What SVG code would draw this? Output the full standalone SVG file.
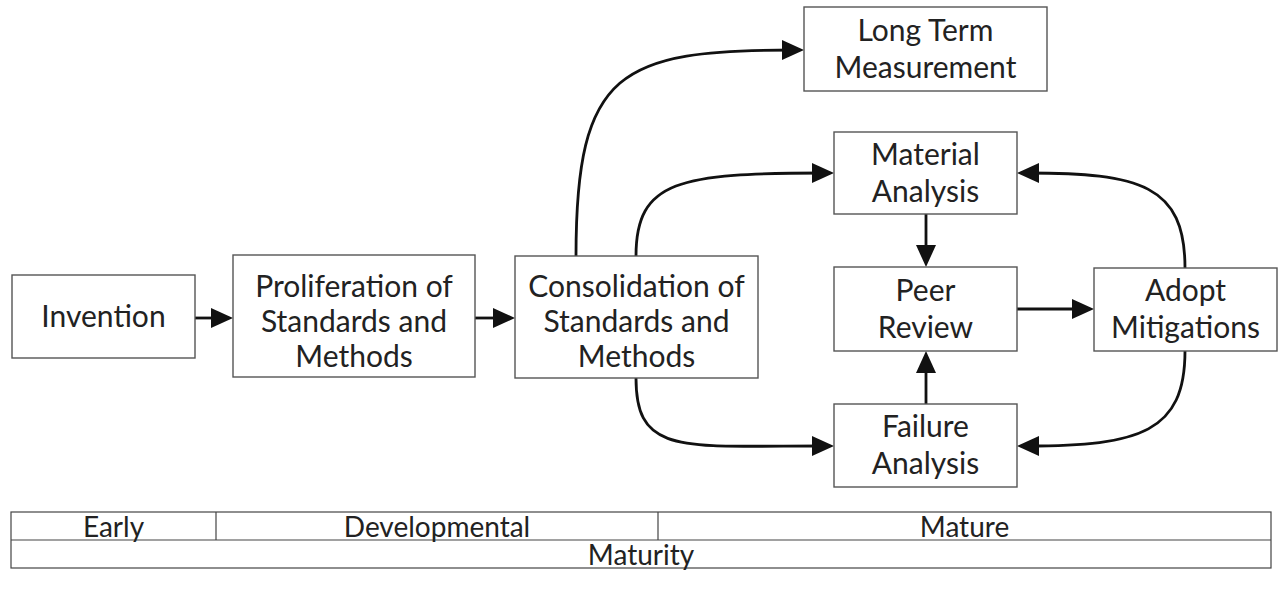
<svg xmlns="http://www.w3.org/2000/svg" width="1278" height="600" viewBox="0 0 1278 600">
<style>
.box{fill:#fff;stroke:#555;stroke-width:1.4}
.t{font-family:Lato,"Open Sans","Liberation Sans",sans-serif;font-size:30px;fill:#222;text-anchor:middle}
.tt{font-family:Lato,"Open Sans","Liberation Sans",sans-serif;font-size:28px;fill:#222;text-anchor:middle}
.c{fill:none;stroke:#111;stroke-width:2.8;marker-end:url(#ah)}
.tbl{fill:none;stroke:#444;stroke-width:1.2}
</style>
<defs>
<marker id="ah" markerUnits="userSpaceOnUse" markerWidth="22" markerHeight="20" refX="12" refY="10" orient="auto">
<path d="M0,0 L22,10 L0,20 z" fill="#111"/>
</marker>
</defs>
<rect width="1278" height="600" fill="#fff"/>
<g id="connectors">
<path class="c" d="M195,318 H223"/>
<path class="c" d="M475,318 H505"/>
<path class="c" d="M576,256 C576,70 620,50 794,50"/>
<path class="c" d="M636,256 C636,180 680,173 824,173"/>
<path class="c" d="M636,378 C636,455 680,446 824,446"/>
<path class="c" d="M926,214 V257"/>
<path class="c" d="M926,404 V361"/>
<path class="c" d="M1017,309 H1084"/>
<path class="c" d="M1185,268 C1185,185 1140,173 1027,173"/>
<path class="c" d="M1185,351 C1185,432 1140,446 1027,446"/>
</g>
<g id="invention">
<rect class="box" x="12" y="275" width="183" height="83"/>
<text class="t" x="103.5" y="327">Invention</text>
</g>
<g id="proliferation">
<rect class="box" x="233" y="255" width="242" height="122"/>
<text class="t" x="354" y="297">Proliferation of</text>
<text class="t" x="354" y="332">Standards and</text>
<text class="t" x="354" y="367">Methods</text>
</g>
<g id="consolidation">
<rect class="box" x="515" y="256" width="243" height="122"/>
<text class="t" x="636.5" y="297">Consolidation of</text>
<text class="t" x="636.5" y="332">Standards and</text>
<text class="t" x="636.5" y="367">Methods</text>
</g>
<g id="longterm">
<rect class="box" x="804" y="7" width="243" height="84"/>
<text class="t" x="925.5" y="41">Long Term</text>
<text class="t" x="925.5" y="78">Measurement</text>
</g>
<g id="material">
<rect class="box" x="834" y="132" width="183" height="82"/>
<text class="t" x="925.5" y="165">Material</text>
<text class="t" x="925.5" y="202">Analysis</text>
</g>
<g id="peer">
<rect class="box" x="834" y="267" width="183" height="84"/>
<text class="t" x="925.5" y="301">Peer</text>
<text class="t" x="925.5" y="338">Review</text>
</g>
<g id="adopt">
<rect class="box" x="1094" y="268" width="183" height="83"/>
<text class="t" x="1185.5" y="301">Adopt</text>
<text class="t" x="1185.5" y="338">Mitigations</text>
</g>
<g id="failure">
<rect class="box" x="834" y="404" width="183" height="83"/>
<text class="t" x="925.5" y="437">Failure</text>
<text class="t" x="925.5" y="474">Analysis</text>
</g>
<g id="maturity-table">
<rect class="tbl" x="11" y="512" width="1260" height="56"/>
<line class="tbl" x1="11" y1="540" x2="1271" y2="540"/>
<line class="tbl" x1="216" y1="512" x2="216" y2="540"/>
<line class="tbl" x1="658" y1="512" x2="658" y2="540"/>
<text class="tt" x="113.5" y="537">Early</text>
<text class="tt" x="437" y="537">Developmental</text>
<text class="tt" x="964.5" y="537">Mature</text>
<text class="tt" x="641" y="565">Maturity</text>
</g>
</svg>
